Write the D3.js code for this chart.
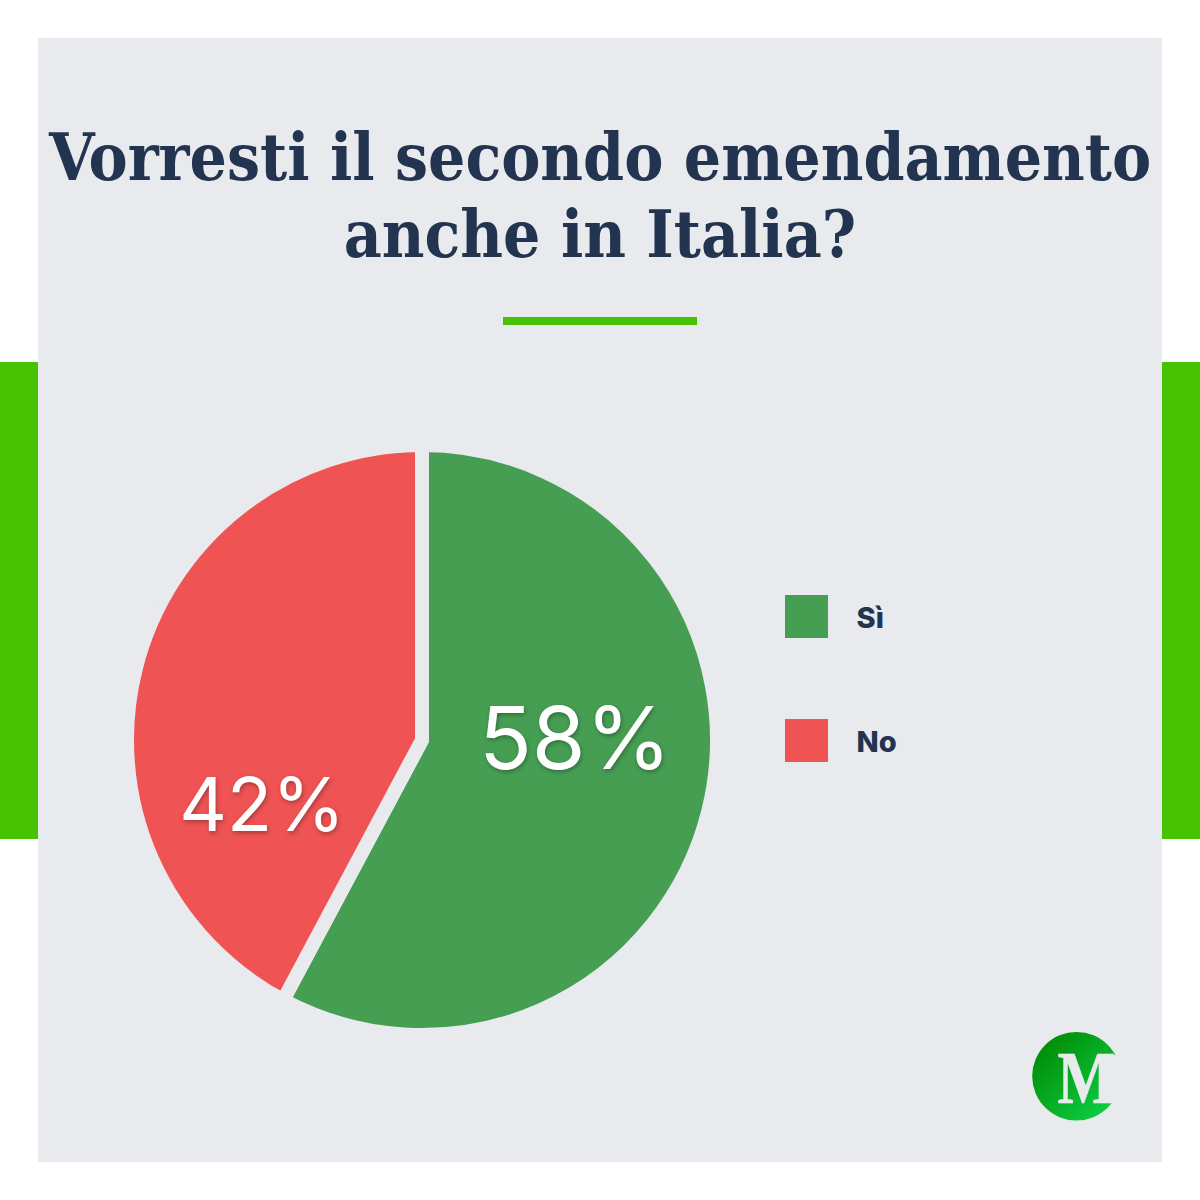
<!DOCTYPE html>
<html>
<head>
<meta charset="utf-8">
<script src="https://cdn.jsdelivr.net/npm/d3@7"></script>
<style>
  html, body { margin: 0; padding: 0; background: #fff; }
  svg { display: block; }
  .label { font-family: Inter, sans-serif; fill: #fff; text-anchor: middle; filter: drop-shadow(1px 2px 2px rgba(0,0,0,0.3)); }
</style>
</head>
<body>
<svg id="chart" width="1200" height="1200"></svg>
<script>
var title_lines = ["Vorresti il secondo emendamento", "anche in Italia?"];
var categories = ["Sì", "No"];
// the labels round these to whole percents
var values = [57.8, 42.2];

var bg = "#e8eaee", accent = "#47c304", navy = "#22344f";
var color = d3.scaleOrdinal().domain(categories).range(["#469e53", "#ef5353"]);

var svg = d3.select("#chart");

// side bars sit behind the panel
svg.append("rect").attr("x", 0).attr("y", 362).attr("width", 1200).attr("height", 477).attr("fill", accent);
svg.append("rect").attr("x", 38).attr("y", 38).attr("width", 1124).attr("height", 1124).attr("fill", bg);

svg.selectAll(".title").data(title_lines).join("text")
  .attr("class", "title")
  .attr("x", 600)
  .attr("y", (d, i) => 180 + i * 77)
  .attr("text-anchor", "middle")
  .attr("font-family", "'DejaVu Serif Condensed', 'DejaVu Serif', serif")
  .attr("font-weight", "bold")
  .attr("font-size", 65.3)
  .attr("fill", navy)
  .text(d => d);

svg.append("rect").attr("x", 503).attr("y", 317).attr("width", 194).attr("height", 8).attr("fill", accent);

// pie, the bg stroke eats 7px off the radius
var pie = d3.pie().sort(null).value(d => d.value);
var arc = d3.arc().innerRadius(0).outerRadius(295);
var slices = pie(categories.map((c, i) => ({ name: c, value: values[i] })));

var g = svg.append("g").attr("transform", "translate(422,740)");
g.selectAll("path").data(slices).join("path")
  .attr("d", arc)
  .attr("fill", d => color(d.data.name))
  .attr("stroke", bg)
  .attr("stroke-width", 14)
  .attr("stroke-linejoin", "miter");

// percent labels, bigger slice gets the bigger type
var labelSize = d3.scaleLinear().domain([42.2, 57.8]).range([74, 87]);
g.selectAll(".label").data(slices).join("text")
  .attr("class", "label")
  .attr("x", d => d.index == 0 ? 153 : -160)
  .attr("y", d => d.index == 0 ? 29 : 91)
  .attr("font-size", d => labelSize(d.data.value))
  .text(d => Math.round(d.data.value) + "%");

// legend
var legend = svg.selectAll(".legend").data(categories).join("g")
  .attr("class", "legend")
  .attr("transform", (d, i) => "translate(785," + (595 + i * 124) + ")");
legend.append("rect").attr("width", 43).attr("height", 43).attr("fill", d => color(d));
legend.append("text")
  .attr("x", 71.5).attr("y", 33)
  .attr("font-family", "Inter, sans-serif")
  .attr("font-weight", 800)
  .attr("font-size", 29)
  .attr("fill", navy)
  .text(d => d);

// logo
var defs = svg.append("defs");
var grad = defs.append("linearGradient").attr("id", "logo_grad")
  .attr("x1", "15%").attr("y1", "15%").attr("x2", "85%").attr("y2", "85%");
grad.append("stop").attr("offset", "0%").attr("stop-color", "#028f0a");
grad.append("stop").attr("offset", "100%").attr("stop-color", "#0ccb3f");

var logo = svg.append("g").attr("class", "logo");
logo.append("circle").attr("cx", 1076.5).attr("cy", 1076.3).attr("r", 44.3).attr("fill", "url(#logo_grad)");
logo.append("rect").attr("x", 1102).attr("y", 1055).attr("width", 24).attr("height", 48).attr("fill", bg);
logo.append("text")
  .attr("transform", "translate(1057.5,1103) scale(0.84,1)")
  .attr("font-family", "'Liberation Serif', serif")
  .attr("font-weight", "bold")
  .attr("font-size", 73)
  .attr("fill", bg)
  .attr("stroke", bg)
  .attr("stroke-width", 0.6)
  .text("M");
</script>
</body>
</html>
